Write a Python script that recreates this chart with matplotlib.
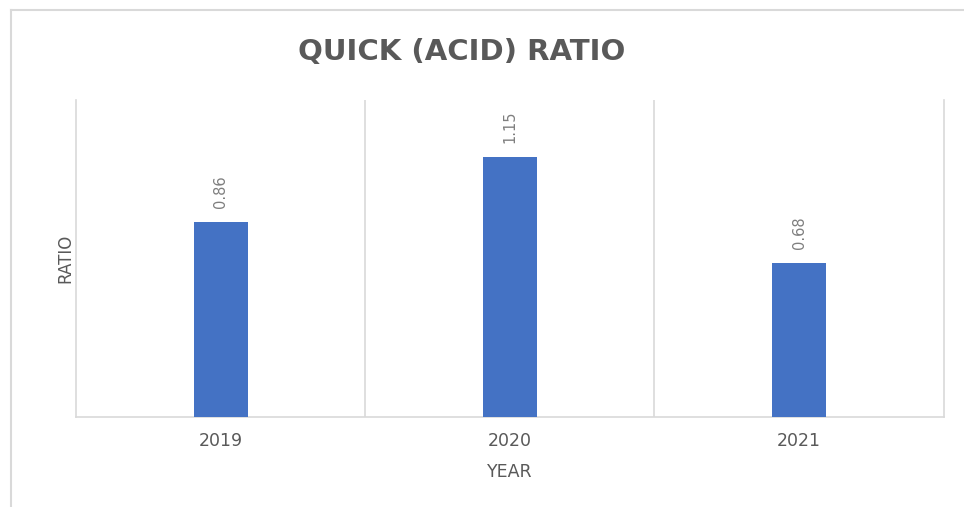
import matplotlib
matplotlib.use("Agg")
import matplotlib.pyplot as plt
from matplotlib.lines import Line2D

years = ["2019", "2020", "2021"]
ratios = [0.86, 1.15, 0.68]

plt.rcParams['font.family'] = ['DejaVu Sans']
textColor = "#595959"
gridColor = "#d9d9d9"

fig = plt.figure(figsize=(9.64, 5.07), dpi=100)
ax = fig.add_axes([0.0788, 0.1775, 0.9002, 0.6253])

x = list(range(len(years)))
ax.bar(x, ratios, width=0.187, color="#4472C4", zorder=3)

for xi, v in zip(x, ratios):
    ax.annotate(f"{v:.2f}", (xi, v), xytext=(0, 10), textcoords="offset points",
                rotation=90, ha="center", va="bottom", fontsize=10.5,
                color="#7f7f7f")

ax.set_xlim(-0.5, len(years) - 0.5)
ax.set_ylim(0, 1.4)
ax.set_xticks(x)
ax.set_xticklabels(years, fontsize=12.5, color=textColor)
ax.tick_params(axis="x", length=0, pad=11)
ax.set_yticks([])

# category separators
for b in [0.5, 1.5]:
    ax.axvline(b, color=gridColor, lw=1.2, zorder=1)

ax.spines["top"].set_visible(False)
for side in ["left", "right", "bottom"]:
    ax.spines[side].set_color(gridColor)
    ax.spines[side].set_linewidth(1.2)

ax.set_xlabel("YEAR", fontsize=12.5, color=textColor, labelpad=9)
ax.set_ylabel("RATIO", fontsize=12, color=textColor, labelpad=1)

fig.text(0.479, 0.897, "QUICK (ACID) RATIO", ha="center", va="center",
         fontsize=21, fontweight="bold", color=textColor)

# chart border (cropped)
fig.add_artist(Line2D([0.011, 0.011], [0, 0.98], color=gridColor, lw=1.5))
fig.add_artist(Line2D([0.011, 1.0], [0.98, 0.98], color=gridColor, lw=1.5))

fig.savefig("out.png", dpi=100)
